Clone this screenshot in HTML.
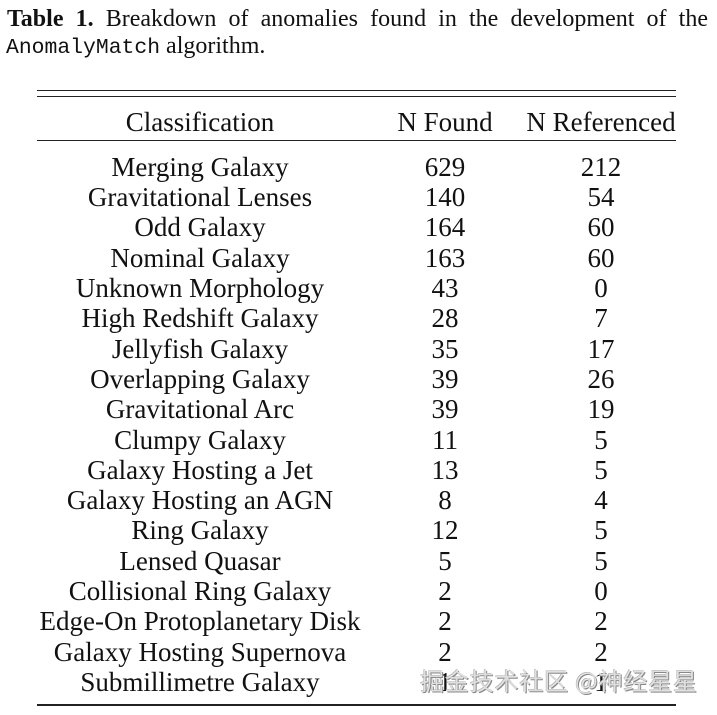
<!DOCTYPE html>
<html>
<head>
<meta charset="utf-8">
<style>
  html, body { margin:0; padding:0; background:#fff; }
  body { width:717px; height:715px; position:relative; overflow:hidden; }
  .t { position:absolute; font-family:"Liberation Serif", "Times New Roman", serif; color:#111; white-space:nowrap; }
  .cap { font-size:24px; line-height:24px; }
  .cell { font-size:27px; line-height:27px; width:400px; text-align:center; }
  .rule { position:absolute; left:37px; width:639px; height:1.4px; background:#222; }
  .mono { font-family:"Liberation Mono", "DejaVu Sans Mono", monospace; font-size:21.4px; }
  .wm { position:absolute; left:420px; top:666px; font-family:"Noto Sans CJK SC", "WenQuanYi Zen Hei", sans-serif; font-size:24px; line-height:28px; color:rgba(235,235,235,0.85); text-shadow:1px 1px 0 #888, -0.5px -0.5px 0 #aaa; white-space:nowrap; letter-spacing:0.8px; }
</style>
</head>
<body>
  <div class="t cap" style="left:7px; top:6.6px; width:701px; text-align:justify; text-align-last:justify;"><b>Table 1.</b> Breakdown of anomalies found in the development of the</div>
  <div class="t cap" style="left:6px; top:34.2px;"><span class="mono">AnomalyMatch</span> algorithm.</div>

  <div class="rule" style="top:90px;"></div>
  <div class="rule" style="top:95.6px;"></div>
  <div class="rule" style="top:140px;"></div>
  <div class="rule" style="top:704.3px;"></div>

  <!-- header -->
  <div class="t cell" style="left:0px; top:109.1px;">Classification</div>
  <div class="t cell" style="left:245px; top:109.1px;">N Found</div>
  <div class="t cell" style="left:401px; top:109.1px;">N Referenced</div>

  <!-- rows: top = 153.8 + i*30.3 -->
  <div class="t cell" style="left:0px; top:153.8px;">Merging Galaxy</div>
  <div class="t cell" style="left:245px; top:153.8px;">629</div>
  <div class="t cell" style="left:401px; top:153.8px;">212</div>

  <div class="t cell" style="left:0px; top:184.1px;">Gravitational Lenses</div>
  <div class="t cell" style="left:245px; top:184.1px;">140</div>
  <div class="t cell" style="left:401px; top:184.1px;">54</div>

  <div class="t cell" style="left:0px; top:214.4px;">Odd Galaxy</div>
  <div class="t cell" style="left:245px; top:214.4px;">164</div>
  <div class="t cell" style="left:401px; top:214.4px;">60</div>

  <div class="t cell" style="left:0px; top:244.7px;">Nominal Galaxy</div>
  <div class="t cell" style="left:245px; top:244.7px;">163</div>
  <div class="t cell" style="left:401px; top:244.7px;">60</div>

  <div class="t cell" style="left:0px; top:275px;">Unknown Morphology</div>
  <div class="t cell" style="left:245px; top:275px;">43</div>
  <div class="t cell" style="left:401px; top:275px;">0</div>

  <div class="t cell" style="left:0px; top:305.3px;">High Redshift Galaxy</div>
  <div class="t cell" style="left:245px; top:305.3px;">28</div>
  <div class="t cell" style="left:401px; top:305.3px;">7</div>

  <div class="t cell" style="left:0px; top:335.6px;">Jellyfish Galaxy</div>
  <div class="t cell" style="left:245px; top:335.6px;">35</div>
  <div class="t cell" style="left:401px; top:335.6px;">17</div>

  <div class="t cell" style="left:0px; top:365.9px;">Overlapping Galaxy</div>
  <div class="t cell" style="left:245px; top:365.9px;">39</div>
  <div class="t cell" style="left:401px; top:365.9px;">26</div>

  <div class="t cell" style="left:0px; top:396.2px;">Gravitational Arc</div>
  <div class="t cell" style="left:245px; top:396.2px;">39</div>
  <div class="t cell" style="left:401px; top:396.2px;">19</div>

  <div class="t cell" style="left:0px; top:426.5px;">Clumpy Galaxy</div>
  <div class="t cell" style="left:245px; top:426.5px;">11</div>
  <div class="t cell" style="left:401px; top:426.5px;">5</div>

  <div class="t cell" style="left:0px; top:456.8px;">Galaxy Hosting a Jet</div>
  <div class="t cell" style="left:245px; top:456.8px;">13</div>
  <div class="t cell" style="left:401px; top:456.8px;">5</div>

  <div class="t cell" style="left:0px; top:487.1px;">Galaxy Hosting an AGN</div>
  <div class="t cell" style="left:245px; top:487.1px;">8</div>
  <div class="t cell" style="left:401px; top:487.1px;">4</div>

  <div class="t cell" style="left:0px; top:517.4px;">Ring Galaxy</div>
  <div class="t cell" style="left:245px; top:517.4px;">12</div>
  <div class="t cell" style="left:401px; top:517.4px;">5</div>

  <div class="t cell" style="left:0px; top:547.7px;">Lensed Quasar</div>
  <div class="t cell" style="left:245px; top:547.7px;">5</div>
  <div class="t cell" style="left:401px; top:547.7px;">5</div>

  <div class="t cell" style="left:0px; top:578px;">Collisional Ring Galaxy</div>
  <div class="t cell" style="left:245px; top:578px;">2</div>
  <div class="t cell" style="left:401px; top:578px;">0</div>

  <div class="t cell" style="left:0px; top:608.3px;">Edge-On Protoplanetary Disk</div>
  <div class="t cell" style="left:245px; top:608.3px;">2</div>
  <div class="t cell" style="left:401px; top:608.3px;">2</div>

  <div class="t cell" style="left:0px; top:638.6px;">Galaxy Hosting Supernova</div>
  <div class="t cell" style="left:245px; top:638.6px;">2</div>
  <div class="t cell" style="left:401px; top:638.6px;">2</div>

  <div class="t cell" style="left:0px; top:668.9px;">Submillimetre Galaxy</div>
  <div class="t cell" style="left:245px; top:668.9px;">1</div>
  <div class="t cell" style="left:401px; top:668.9px;">1</div>

  <div class="wm">掘金技术社区 @神经星星</div>
</body>
</html>
